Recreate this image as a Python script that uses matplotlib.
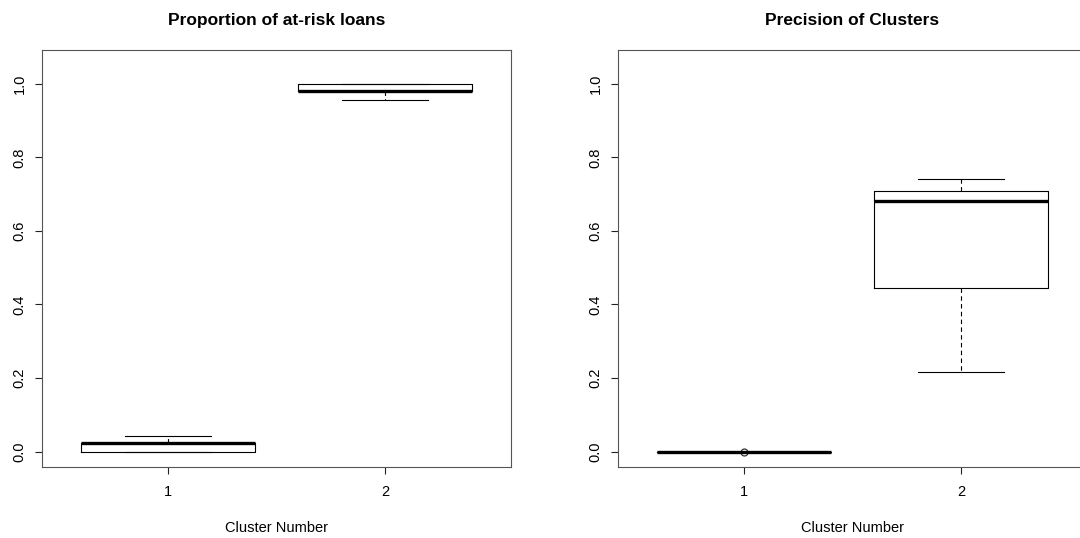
import matplotlib.pyplot as plt

plt.rcParams['font.family'] = ['Liberation Sans', 'DejaVu Sans']

clusters = [1, 2]

# Proportion of at-risk loans per cluster (five-number summaries)
risk_whislo = [0.000, 0.957]
risk_q1 = [0.000, 0.981]
risk_med = [0.022, 0.981]
risk_q3 = [0.022, 1.000]
risk_whishi = [0.043, 1.000]
risk_fliers = [[], []]

# Precision of clusters
prec_whislo = [0.000, 0.217]
prec_q1 = [0.000, 0.446]
prec_med = [0.000, 0.682]
prec_q3 = [0.000, 0.709]
prec_whishi = [0.000, 0.742]
prec_fliers = [[0.0], []]

yticks = [0.0, 0.2, 0.4, 0.6, 0.8, 1.0]


def make_stats(lo, q1, med, q3, hi, fliers):
    stats = []
    for i in range(len(clusters)):
        stats.append(dict(label=str(clusters[i]), whislo=lo[i], q1=q1[i], med=med[i],
                          q3=q3[i], whishi=hi[i], fliers=fliers[i]))
    return stats


def r_boxplot(ax, stats, title):
    ax.bxp(stats, positions=clusters, widths=0.8, capwidths=0.4,
           boxprops=dict(color='black', linewidth=0.8),
           medianprops=dict(color='black', linewidth=2.4, solid_capstyle='butt'),
           whiskerprops=dict(color='black', linewidth=0.8, linestyle=(0, (4, 3))),
           capprops=dict(color='black', linewidth=0.8),
           flierprops=dict(marker='o', markersize=5, markerfacecolor='none',
                           markeredgecolor='#333333', markeredgewidth=0.9))
    ax.set_xlim(0.42, 2.58)
    ax.set_ylim(-0.042, 1.092)
    ax.set_yticks(yticks)
    ax.set_yticklabels([f"{t:.1f}" for t in yticks], rotation=90, va='center')
    ax.set_xticks(clusters)
    ax.set_xticklabels([str(c) for c in clusters])
    ax.tick_params(axis='both', direction='out', length=5, width=0.8, colors='#222222',
                   labelsize=10.5, labelcolor='black')
    ax.tick_params(axis='y', pad=6)
    ax.tick_params(axis='x', pad=8)
    for s in ax.spines.values():
        s.set_linewidth(0.8)
        s.set_color('#555555')
    ax.set_xlabel("Cluster Number", fontsize=10.5, labelpad=16)
    ax.set_title(title, fontsize=12.5, fontweight='bold', pad=18)


fig = plt.figure(figsize=(10.8, 5.38), dpi=100)
ax1 = fig.add_axes([42 / 1080, 71 / 538, 469 / 1080, 417 / 538])
ax2 = fig.add_axes([618 / 1080, 71 / 538, 469 / 1080, 417 / 538])

r_boxplot(ax1, make_stats(risk_whislo, risk_q1, risk_med, risk_q3, risk_whishi, risk_fliers),
          "Proportion of at-risk loans")
r_boxplot(ax2, make_stats(prec_whislo, prec_q1, prec_med, prec_q3, prec_whishi, prec_fliers),
          "Precision of Clusters")

fig.savefig("out.png", dpi=100)
